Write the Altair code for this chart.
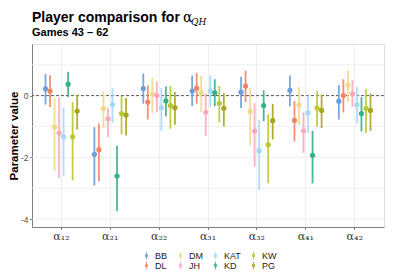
import altair as alt
import pandas as pd

players = ["BB", "DL", "DM", "JH", "KAT", "KD", "KW", "PG"]
colors = ["#6A9FD9", "#EF8563", "#F1D98A", "#F9A9BE", "#A4D9F6", "#35B088", "#B9C92E", "#A8A61C"]
params = ["α₁₂", "α₂₁", "α₂₂", "α₃₁", "α₃₂", "α₄₁", "α₄₂"]

est = {
    "BB":  [0.22, -1.90, 0.23, 0.15, 0.11, 0.17, -0.18],
    "DL":  [0.15, -1.75, -0.21, 0.24, 0.31, -0.80, 0.00],
    "DM":  [-1.02, -0.42, 0.05, 0.10, -0.51, -0.30, 0.34],
    "JH":  [-1.21, -0.75, 0.00, -0.54, -1.15, -1.14, 0.06],
    "KAT": [-1.33, -0.29, -0.39, 0.15, -1.78, -0.56, -0.29],
    "KD":  [0.37, -2.60, -0.17, 0.09, -0.32, -1.93, -0.58],
    "KW":  [-1.33, -0.58, -0.32, -0.25, -1.59, -0.40, -0.41],
    "PG":  [-0.50, -0.63, -0.39, -0.41, -0.81, -0.48, -0.48],
}
lo = {
    "BB":  [-0.29, -2.91, -0.26, -0.34, -0.40, -0.34, -0.77],
    "DL":  [-0.37, -2.77, -0.77, -0.26, -0.21, -1.48, -0.54],
    "DM":  [-2.44, -1.05, -0.56, -0.54, -1.62, -0.95, -0.21],
    "JH":  [-2.66, -1.34, -0.54, -1.31, -2.30, -1.85, -0.37],
    "KAT": [-2.59, -0.88, -1.14, -0.37, -3.05, -1.21, -0.90],
    "KD":  [-0.05, -3.74, -0.67, -0.34, -0.83, -2.84, -1.16],
    "KW":  [-2.74, -1.25, -1.07, -0.87, -2.84, -1.01, -1.21],
    "PG":  [-1.10, -1.29, -0.94, -1.00, -1.42, -1.05, -1.14],
}
hi = {
    "BB":  [0.70, -1.02, 0.72, 0.65, 0.61, 0.65, 0.34],
    "DL":  [0.66, -0.90, 0.33, 0.74, 0.81, -0.17, 0.53],
    "DM":  [-0.08, 0.14, 0.57, 0.65, 0.25, 0.28, 0.81],
    "JH":  [-0.06, -0.39, 0.46, 0.07, -0.24, -0.54, 0.51],
    "KAT": [-0.39, 0.24, 0.24, 0.65, -0.78, 0.00, 0.28],
    "KD":  [0.77, -1.62, 0.30, 0.53, 0.17, -1.14, -0.05],
    "KW":  [-0.21, 0.00, 0.31, 0.31, -0.60, 0.15, 0.22],
    "PG":  [0.03, -0.08, 0.12, 0.09, -0.27, 0.04, 0.07],
}

y_ticks = [-4, -2, 0]
grid_vals = [-4, -3, -2, -1, 0, 1]
y_domain = [-4.25, 1.67]

title_main = "Player comparison for"
title_alpha = "α"
title_sub_idx = "QH"
subtitle = "Games 43 – 62"
y_title = "Parameter value"

rows = []
for p in players:
    for i, prm in enumerate(params):
        rows.append({"player": p, "param": prm, "est": est[p][i], "lo": lo[p][i], "hi": hi[p][i]})
df = pd.DataFrame(rows)

legend_order = players[0::2] + players[1::2]
legend_colors = [colors[players.index(p)] for p in legend_order]

W, H = 352, 183

yaxis = alt.Axis(title=y_title, values=y_ticks, grid=False, labelExpr="'' + datum.value",
                 titleFontSize=11.5, titleFont="Liberation Sans", titleFontWeight="bold",
                 titleColor="#000000", titlePadding=1,
                 labelFontSize=8.5, labelColor="#4D4D4D", tickColor="#7F7F7F",
                 tickSize=2.5, domainColor="#7F7F7F", labelPadding=1.5)
yscale = alt.Scale(domain=y_domain, nice=False, zero=False)
xenc = alt.X(
    "param:N", sort=params,
    scale=alt.Scale(paddingInner=0.26, paddingOuter=0.23),
    axis=alt.Axis(title=None, grid=True, gridColor="#EBEBEB", gridWidth=0.8,
                  bandPosition=0.5, labelFont="DejaVu Serif", labelFontSize=11,
                  labelColor="#333333", tickColor="#7F7F7F", tickSize=2.5,
                  domainColor="#7F7F7F", labelPadding=1, labelAngle=0),
)
xoff = alt.XOffset("player:N", sort=players,
                   scale=alt.Scale(domain=players, paddingInner=0, paddingOuter=0))
legend_symbol = ("M-0.15,-1H0.15V1H-0.15Z"
                 "M0.45,0A0.45,0.45 0 1,1 -0.45,0A0.45,0.45 0 1,1 0.45,0Z")
color = alt.Color("player:N",
                  scale=alt.Scale(domain=legend_order, range=legend_colors),
                  legend=alt.Legend(title=None, orient="none", legendX=110, legendY=H + 24,
                                    direction="horizontal",
                                    columns=4, labelFontSize=9, labelColor="#222222",
                                    symbolType=legend_symbol,
                                    symbolSize=55, symbolStrokeWidth=0,
                                    rowPadding=-1, columnPadding=8, labelOffset=4,
                                    labelFont="Liberation Sans"))

grid = alt.Chart(pd.DataFrame({"v": grid_vals})).mark_rule(color="#EBEBEB", strokeWidth=0.8).encode(
    y=alt.Y("v:Q", scale=yscale, axis=yaxis)
)
zero = alt.Chart(pd.DataFrame({"v": [0]})).mark_rule(color="#333333", strokeWidth=0.8, strokeDash=[3, 2]).encode(
    y=alt.Y("v:Q", scale=yscale, axis=yaxis)
)

base = alt.Chart(df)
bars = base.mark_rule(strokeWidth=1.8, opacity=0.9).encode(
    x=xenc, xOffset=xoff,
    y=alt.Y("lo:Q", scale=yscale, axis=yaxis),
    y2="hi:Q",
    color=color,
)
points = base.mark_circle(size=27, opacity=1).encode(
    x=xenc, xOffset=xoff, y=alt.Y("est:Q", scale=yscale, axis=yaxis), color=color
)

t1 = alt.Chart(pd.DataFrame({"t": [title_main]})).mark_text(
    align="left", baseline="alphabetic", font="Liberation Sans", fontWeight="bold", fontSize=14, color="#000000"
).encode(text="t:N", x=alt.value(0), y=alt.value(-22))
t2 = alt.Chart(pd.DataFrame({"t": [title_alpha]})).mark_text(
    align="left", baseline="alphabetic", font="DejaVu Serif", fontSize=14, color="#000000"
).encode(text="t:N", x=alt.value(151), y=alt.value(-22))
t3 = alt.Chart(pd.DataFrame({"t": [title_sub_idx]})).mark_text(
    align="left", baseline="alphabetic", font="DejaVu Serif", fontStyle="italic", fontSize=9, color="#000000"
).encode(text="t:N", x=alt.value(159), y=alt.value(-19))
t4 = alt.Chart(pd.DataFrame({"t": [subtitle]})).mark_text(
    align="left", baseline="alphabetic", font="Liberation Sans", fontWeight="bold", fontSize=11, color="#000000"
).encode(text="t:N", x=alt.value(0), y=alt.value(-8))

chart = alt.layer(grid, zero, bars, points, t1, t2, t3, t4).properties(
    width=W, height=H, padding={"top": 3, "left": 0, "right": 0, "bottom": 0}
).configure_view(stroke="#7F7F7F", strokeWidth=1).configure(
    background="white"
)

chart.save("out.html", embed_options={"renderer": "svg", "actions": False})
